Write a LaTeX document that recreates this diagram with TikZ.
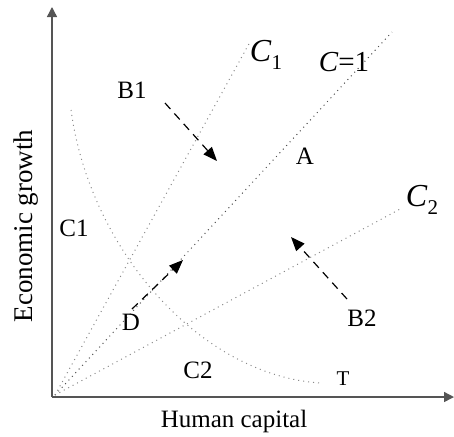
\documentclass[tikz,border=0pt]{standalone}
\usepackage{fontspec}
\setmainfont{Liberation Serif}
\usepackage{xcolor}
\usetikzlibrary{arrows.meta}
\definecolor{AxisGray}{HTML}{555555}
\definecolor{DotGray}{HTML}{8A8A8A}
\definecolor{DotDark}{HTML}{505050}
\tikzset{
  axisline/.style={AxisGray,line width=0.7pt,-{Triangle[length=5pt,width=5pt]}},
  rayline/.style={DotGray,dotted,line width=0.5pt},
  shiftarrow/.style={black,line width=0.6pt,dash pattern=on 4pt off 3pt,-{Triangle[length=7pt,width=5.5pt]}},
  lbl/.style={inner sep=0pt,font=\fontsize{12.5}{14}\selectfont}
}

\begin{document}
\begin{tikzpicture}[x=0.5pt,y=-0.5pt]
\path[use as bounding box] (0,0) rectangle (454,436);
% axes
\coordinate (O) at (52,397);
\coordinate (ytop) at (52,7);
\coordinate (xend) at (454,397);
\draw[axisline] (O) -- (ytop);
\draw[axisline] (O) -- (xend);
\node[lbl] (xlab) at (234,421) {Human capital};
\node[lbl,font=\fontsize{13.5}{15}\selectfont,rotate=90] (ylab) at (26,226) {Economic growth};
% rays from the origin
\coordinate (start) at (55,395);
\coordinate (c1end) at (250,42);
\coordinate (cend) at (392,32);
\coordinate (c2end) at (402,208);
\draw[rayline] (start) -- (c1end);
\draw[rayline,DotDark] (start) -- (cend);
\draw[rayline] (start) -- (c2end);
% transition curve
\coordinate (ctop) at (71,110);
\coordinate (cbot) at (320,383);
\draw[rayline] (ctop) .. controls (90,250) and (200,375) .. (cbot);
% labels
\node[lbl,font=\fontsize{16}{17}\selectfont] (labC1) at (266,55) {\textit{C}\raisebox{-0.55ex}{\fontsize{10.5}{11}\selectfont 1}};
\node[lbl,font=\fontsize{14.5}{16}\selectfont] (labC) at (344,62) {\textit{C}=1};
\node[lbl,font=\fontsize{16}{17}\selectfont] (labC2) at (422,200) {\textit{C}\raisebox{-0.55ex}{\fontsize{10.5}{11}\selectfont 2}};
\node[lbl] (B1) at (132,90) {B1};
\node[lbl] (A) at (305,156) {A};
\node[lbl] (Cone) at (74,228) {C1};
\node[lbl] (D) at (131,322) {D};
\node[lbl] (B2) at (362,318) {B2};
\node[lbl] (Ctwo) at (198,370) {C2};
\node[lbl,font=\fontsize{10.5}{12}\selectfont] (T) at (343,379) {T};
% shifts
\coordinate (b1s) at (165,103);
\coordinate (b1e) at (217,161);
\coordinate (ds) at (132,309);
\coordinate (de) at (183,260);
\coordinate (b2s) at (347,299);
\coordinate (b2e) at (291,237);
\draw[shiftarrow] (b1s) -- (b1e);
\draw[shiftarrow] (ds) -- (de);
\draw[shiftarrow] (b2s) -- (b2e);
\end{tikzpicture}
\end{document}
